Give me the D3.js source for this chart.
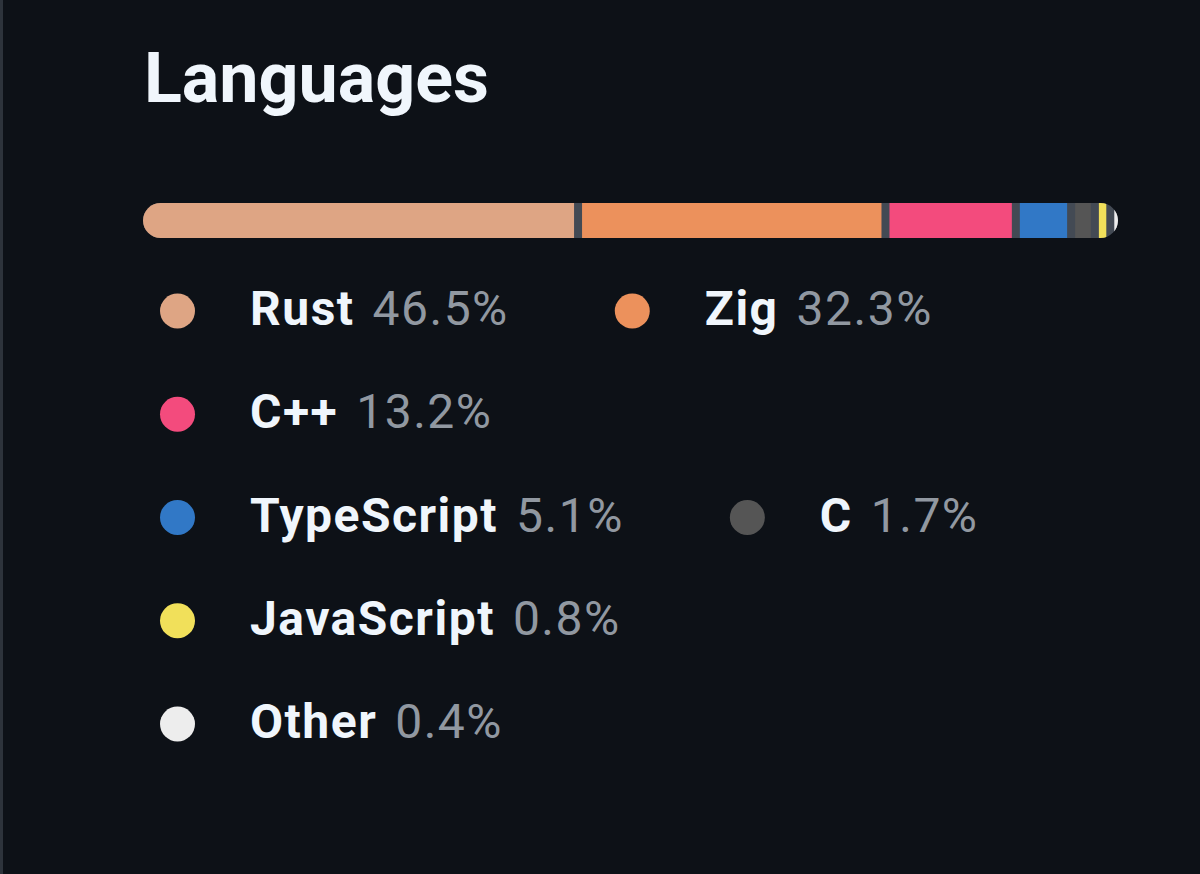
<!DOCTYPE html>
<html lang="en">
<head>
    <meta charset="UTF-8">
    <title>Languages</title>
    <script src="https://cdn.jsdelivr.net/npm/d3@7"></script>
    <style>
        html, body {
            margin: 0;
            padding: 0;
            background: #0d1117;
        }

        svg text {
            font-family: Roboto, "Noto Sans", sans-serif;
        }

        .title {
            fill: #f0f6fc;
            font-weight: 700;
        }

        .lang-name {
            fill: #f0f6fc;
            font-weight: 700;
            letter-spacing: 1.5px;
        }

        .lang-pct {
            fill: #9198a1;
            letter-spacing: 1.5px;
        }
    </style>
</head>
<body>
<div id="chart"></div>

<script>
    // language stats, as shown in the picture
    var languages = ['Rust', 'Zig', 'C++', 'TypeScript', 'C', 'JavaScript', 'Other'];
    var percents = [46.5, 32.3, 13.2, 5.1, 1.7, 0.8, 0.4];
    var colors = ['#dea584', '#ec915c', '#f34b7d', '#3178c6', '#555555', '#f1e05a', '#ededed'];

    var W = 1200, H = 874;

    var svg = d3.select('#chart')
        .append('svg')
        .attr('width', W)
        .attr('height', H);

    svg.append('rect')
        .attr('width', W)
        .attr('height', H)
        .attr('fill', '#0d1117');

    // thin panel border down the left side
    svg.append('rect')
        .attr('width', 3)
        .attr('height', H)
        .attr('fill', '#2d333b');

    svg.append('text')
        .attr('class', 'title')
        .attr('x', 144)
        .attr('y', 102)
        .attr('font-size', 70)
        .text('Languages');

    // ---- stacked progress bar
    var bar = {x: 143, y: 203, w: 975, h: 35, gap: 8};
    var data = languages.map(function (n, i) {
        return {name: n, pct: percents[i], color: colors[i]};
    });

    var x = d3.scaleLinear()
        .domain([0, d3.sum(percents)])
        .range([0, bar.w - bar.gap * (data.length - 1)]);

    var acc = 0;
    data.forEach(function (d, i) {
        d.x0 = x(acc) + i * bar.gap;
        d.w = x(d.pct);
        acc += d.pct;
    });

    svg.append('clipPath')
        .attr('id', 'bar-clip')
        .append('rect')
        .attr('x', bar.x)
        .attr('y', bar.y)
        .attr('width', bar.w)
        .attr('height', bar.h)
        .attr('rx', bar.h / 2);

    var barG = svg.append('g').attr('clip-path', 'url(#bar-clip)');
    barG.append('rect')
        .attr('x', bar.x)
        .attr('y', bar.y)
        .attr('width', bar.w)
        .attr('height', bar.h)
        .attr('fill', '#434a54');

    barG.selectAll('rect.seg')
        .data(data)
        .enter()
        .append('rect')
        .attr('class', 'seg')
        .attr('x', function (d) { return bar.x + d.x0; })
        .attr('y', bar.y)
        .attr('width', function (d) { return d.w; })
        .attr('height', bar.h)
        .attr('fill', function (d) { return d.color; });

    // ---- legend, laid out like wrapping inline items
    var leg = {x: 160, right: 1135, y0: 311, rowH: 103.25, r: 17.5, textDx: 90, pctGap: 18, margin: 106, fs: 48, base: 14};

    var items = svg.append('g')
        .selectAll('g')
        .data(data)
        .enter()
        .append('g');

    items.append('circle')
        .attr('cx', leg.r)
        .attr('cy', 0)
        .attr('r', leg.r)
        .attr('fill', function (d) { return d.color; });

    items.append('text')
        .attr('class', 'lang-name')
        .attr('x', leg.textDx)
        .attr('y', leg.base)
        .attr('font-size', leg.fs)
        .text(function (d) { return d.name; });

    items.each(function (d) {
        var g = d3.select(this);
        var nw = g.select('.lang-name').node().getComputedTextLength();
        var t = g.append('text')
            .attr('class', 'lang-pct')
            .attr('x', leg.textDx + nw + leg.pctGap)
            .attr('y', leg.base)
            .attr('font-size', leg.fs)
            .text(d.pct.toFixed(1) + '%');
        d.itemW = leg.textDx + nw + leg.pctGap + t.node().getComputedTextLength() + leg.margin;
    });

    var cx = leg.x, row = 0;
    items.each(function (d) {
        if (cx > leg.x && cx + d.itemW > leg.right) {
            row++;
            cx = leg.x;
        }
        d3.select(this).attr('transform', 'translate(' + cx + ',' + (leg.y0 + row * leg.rowH) + ')');
        cx += d.itemW;
    });
</script>
</body>
</html>
